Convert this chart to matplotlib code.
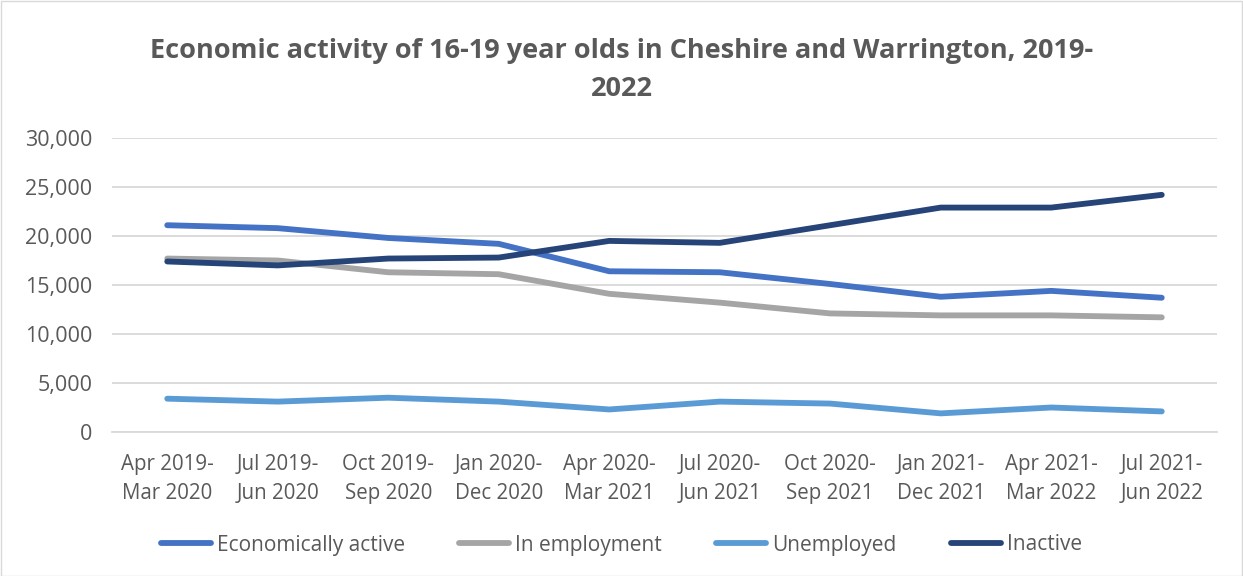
import matplotlib
matplotlib.use("Agg")
import matplotlib.pyplot as plt
from matplotlib.ticker import FuncFormatter, MultipleLocator
from matplotlib.patches import Rectangle

periods = ["Apr 2019-\nMar 2020", "Jul 2019-\nJun 2020", "Oct 2019-\nSep 2020", "Jan 2020-\nDec 2020",
           "Apr 2020-\nMar 2021", "Jul 2020-\nJun 2021", "Oct 2020-\nSep 2021", "Jan 2021-\nDec 2021",
           "Apr 2021-\nMar 2022", "Jul 2021-\nJun 2022"]
economically_active = [21100, 20800, 19800, 19200, 16400, 16300, 15100, 13800, 14400, 13700]
in_employment = [17700, 17500, 16300, 16100, 14100, 13200, 12100, 11900, 11900, 11700]
unemployed = [3400, 3100, 3500, 3100, 2300, 3100, 2900, 1900, 2500, 2100]
inactive = [17400, 17000, 17700, 17800, 19500, 19300, 21100, 22900, 22900, 24200]

series = [("Economically active", economically_active, "#4472C4"),
          ("In employment", in_employment, "#A5A5A5"),
          ("Unemployed", unemployed, "#5B9BD5"),
          ("Inactive", inactive, "#264478")]

plt.rcParams['font.family'] = ['Open Sans', 'DejaVu Sans']
txt = "#595959"

fig = plt.figure(figsize=(12.43, 5.76), dpi=100)
ax = fig.add_axes([112/1243, 1-432/576, (1217-112)/1243, (432-138)/576])

x = list(range(len(periods)))
for name, vals, col in series:
    ax.plot(x, vals, color=col, lw=4.2, solid_capstyle='round', solid_joinstyle='round', label=name)

ax.set_xlim(-0.5, len(periods)-0.5)
ax.set_ylim(0, 30000)
ax.yaxis.set_major_locator(MultipleLocator(5000))
ax.yaxis.set_major_formatter(FuncFormatter(lambda v, p: f"{int(v):,}"))
ax.grid(axis='y', color='#D9D9D9', lw=1.3)
ax.set_axisbelow(True)
for s in ['top', 'right', 'left']:
    ax.spines[s].set_visible(False)
ax.spines['bottom'].set_color('#D9D9D9')
ax.spines['bottom'].set_linewidth(1.3)
ax.set_xticks(x)
ax.set_xticklabels(periods, fontsize=14.8, color=txt, linespacing=1.5)
ax.tick_params(axis='x', length=0, pad=16)
ax.tick_params(axis='y', length=0, labelsize=15.5, labelcolor=txt, pad=14)

fig.text(0.5, 1-70/576, "Economic activity of 16-19 year olds in Cheshire and Warrington, 2019-\n2022",
         ha='center', va='center', fontsize=19.5, fontweight='bold', color=txt, linespacing=1.6)

leg = fig.legend(loc='center', bbox_to_anchor=(0.5, 1-545/576), ncol=4, frameon=False,
                 fontsize=15, handlelength=2.4, handletextpad=0.3, columnspacing=2.6)
for t in leg.get_texts():
    t.set_color(txt)

fig.patches.append(Rectangle((0.5/1243, 0.5/576), 1-1.5/1243, 1-1.5/576, transform=fig.transFigure,
                             fill=False, edgecolor='#D9D9D9', lw=1))

fig.savefig("out.png", dpi=100)
